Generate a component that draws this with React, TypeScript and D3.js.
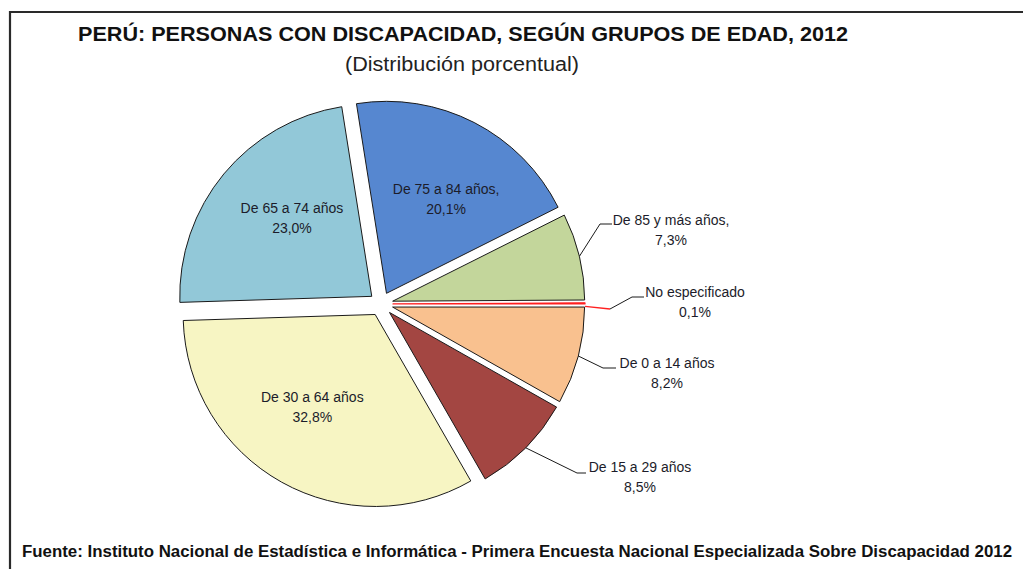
import React from "react";
import * as d3 from "d3";

const categories = [
  "De 0 a 14 años",
  "De 15 a 29 años",
  "De 30 a 64 años",
  "De 65 a 74 años",
  "De 75 a 84 años",
  "De 85 y más años",
  "No especificado",
];
const values = [8.2, 8.5, 32.8, 23.0, 20.1, 7.3, 0.1];
const valueLabels = ["8,2%", "8,5%", "32,8%", "23,0%", "20,1%", "7,3%", "0,1%"];
const nameLabels = [
  "De 0 a 14 años",
  "De 15 a 29 años",
  "De 30 a 64 años",
  "De 65 a 74 años",
  "De 75 a 84 años,",
  "De 85 y más años,",
  "No especificado",
];
const colors = ["#F9C18F", "#A34642", "#F7F5C3", "#92C8D8", "#5687D0", "#C3D69B", "#FF2020"];
const insideLabel = [false, false, true, true, true, false, false];

const W = 1023;
const H = 569;
const CX = 381;
const CY = 304;
const R = 192;
const EXPLODE = 12;
const FONT = "'Liberation Sans', Arial, sans-serif";

// layout of outside labels (elbow, text anchor)
const outside: Record<string, { elbow: [number, number]; end: [number, number]; tx: number; ty: number; split?: [number, number] }> = {
  "De 85 y más años": { elbow: [600, 224], end: [612, 224], tx: 671, ty: 220 },
  "No especificado": { elbow: [632, 297], end: [644, 297], tx: 695, ty: 292, split: [610, 309] },
  "De 0 a 14 años": { elbow: [603, 368], end: [616, 368], tx: 667, ty: 363 },
  "De 15 a 29 años": { elbow: [577, 473], end: [586, 473], tx: 640, ty: 467 },
};

export default function App() {
  const pie = d3
    .pie<number>()
    .value((d) => d)
    .sort(null)
    .startAngle(Math.PI / 2)
    .endAngle(Math.PI / 2 + 2 * Math.PI);
  const arcs = pie(values);
  const arc = d3.arc<d3.PieArcDatum<number>>().innerRadius(0).outerRadius(R);

  return (
    <svg
      width={W}
      height={H}
      style={{ position: "absolute", left: 0, top: 0, background: "#fff" }}
      fontFamily={FONT}
    >
      <rect x={0} y={0} width={W} height={H} fill="#fff" />
      <path d={`M10,${H + 5} L10,12 L${W + 5},12`} fill="none" stroke="#2a2a2a" strokeWidth={2.2} />
      <text x={78} y={41} fontSize={21} fontWeight="bold" fill="#111" textLength={770} lengthAdjust="spacingAndGlyphs">
        PERÚ: PERSONAS CON DISCAPACIDAD, SEGÚN GRUPOS DE EDAD, 2012
      </text>
      <text x={462} y={71} fontSize={20} textAnchor="middle" fill="#222" textLength={234} lengthAdjust="spacingAndGlyphs">
        (Distribución porcentual)
      </text>

      <g transform={`translate(${CX},${CY})`}>
        {arcs.map((a, i) => {
          const mid = (a.startAngle + a.endAngle) / 2;
          const dx = EXPLODE * Math.sin(mid);
          const dy = -EXPLODE * Math.cos(mid);
          const tiny = values[i] < 1;
          return (
            <path
              key={categories[i]}
              d={arc(a) || ""}
              transform={`translate(${dx},${dy})`}
              fill={colors[i]}
              stroke={tiny ? "#FF2020" : "#1a1a1a"}
              strokeWidth={tiny ? 1.2 : 1}
              strokeLinejoin="round"
            />
          );
        })}
      </g>

      {arcs.map((a, i) => {
        const mid = (a.startAngle + a.endAngle) / 2;
        const tipX = CX + EXPLODE * Math.sin(mid);
        const tipY = CY - EXPLODE * Math.cos(mid);
        if (insideLabel[i]) {
          const ang = mid + 0.087;
          const lx = tipX + 112 * Math.sin(ang);
          const ly = tipY - 112 * Math.cos(ang);
          return (
            <text key={"l" + i} textAnchor="middle" fontSize={14} fill="#1c1c2a">
              <tspan x={lx} y={ly - 5}>{nameLabels[i]}</tspan>
              <tspan x={lx} y={ly + 15}>{valueLabels[i]}</tspan>
            </text>
          );
        }
        const o = outside[categories[i]];
        const ex = tipX + R * Math.sin(mid);
        const ey = tipY - R * Math.cos(mid);
        return (
          <g key={"l" + i}>
            {o.split ? (
              <>
                <path d={`M${ex},${ey + 3}L${o.split[0]},${o.split[1]}`} stroke="#FF2020" strokeWidth={1.3} fill="none" />
                <path d={`M${o.split[0]},${o.split[1]}L${o.elbow[0]},${o.elbow[1]}L${o.end[0]},${o.end[1]}`} stroke="#1a1a1a" strokeWidth={1} fill="none" />
              </>
            ) : (
              <path d={`M${ex},${ey}L${o.elbow[0]},${o.elbow[1]}L${o.end[0]},${o.end[1]}`} stroke="#1a1a1a" strokeWidth={1} fill="none" />
            )}
            <text textAnchor="middle" fontSize={14} fill="#1c1c2a">
              <tspan x={o.tx} y={o.ty + 5}>{nameLabels[i]}</tspan>
              <tspan x={o.tx} y={o.ty + 25}>{valueLabels[i]}</tspan>
            </text>
          </g>
        );
      })}

      <text x={22} y={557} fontSize={16} fontWeight="bold" fill="#111" textLength={990} lengthAdjust="spacingAndGlyphs">
        Fuente: Instituto Nacional de Estadística e Informática - Primera Encuesta Nacional Especializada Sobre Discapacidad 2012
      </text>
    </svg>
  );
}
